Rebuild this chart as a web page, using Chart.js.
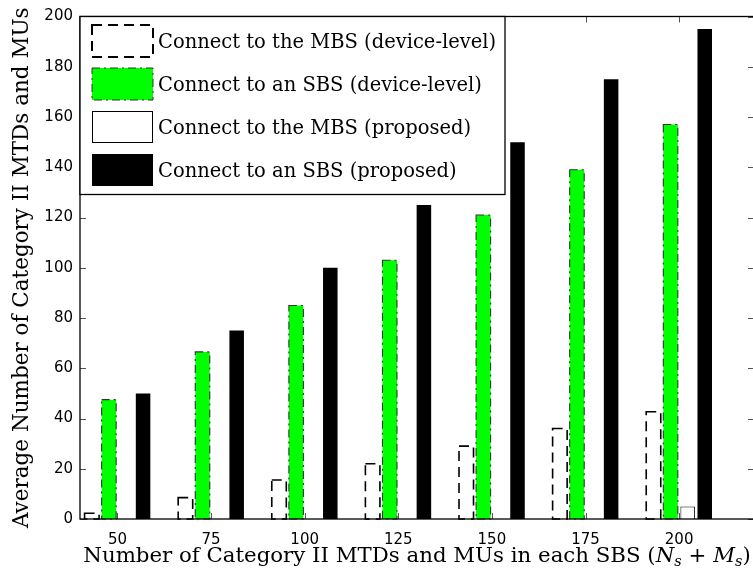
<!DOCTYPE html>
<html>
<head>
<meta charset="utf-8">
<script src="https://cdn.jsdelivr.net/npm/chart.js@4.4.1/dist/chart.umd.min.js"></script>
<style>
  html, body { margin: 0; padding: 0; background: #fff; overflow: hidden; }
  #wrap { width: 753px; height: 576px; overflow: hidden; }
</style>
</head>
<body>
<div id="wrap"><canvas id="barChart" width="756" height="576"></canvas></div>
<script>
// --- Data ---
const sbsSizes = [50, 75, 100, 125, 150, 175, 200];
const mbsDevice = [2.3, 8.5, 15.5, 22, 29, 36, 42.7];
const sbsDevice = [47.5, 66.5, 85, 103, 121, 139, 157];
const mbsProposed = [0, 0, 0, 0, 0, 0, 5];
const sbsProposed = [50, 75, 100, 125, 150, 175, 195];
const seriesNames = [
  'Connect to the MBS (device-level)',
  'Connect to an SBS (device-level)',
  'Connect to the MBS (proposed)',
  'Connect to an SBS (proposed)'
];
const yTicks = [0, 20, 40, 60, 80, 100, 120, 140, 160, 180, 200];
const yTitle = 'Average Number of Category II MTDs and MUs';

const SERIF = '"DejaVu Serif", serif';
const SANS = '"DejaVu Sans", sans-serif';

const toPoints = vals => vals.map((v, i) => ({ x: sbsSizes[i], y: v }));

// --- Dashed / dash-dot outlines (bars have no native dash support) ---
function strokeBars(c, meta, dash, width, color) {
  c.save();
  c.setLineDash(dash);
  c.lineWidth = width;
  c.strokeStyle = color;
  meta.data.forEach(bar => {
    const p = bar.getProps(['x', 'y', 'base', 'width'], true);
    if (p.base - p.y < 0.5) return;
    c.strokeRect(p.x - p.width / 2, p.y, p.width, p.base - p.y);
  });
  c.restore();
}

function drawSwatch(c, i, x, y, w, h) {
  c.save();
  if (i === 0) {
    c.fillStyle = '#fff'; c.fillRect(x, y, w, h);
    c.setLineDash([10, 6]); c.lineWidth = 2; c.strokeStyle = '#000';
    c.strokeRect(x, y, w, h);
  } else if (i === 1) {
    c.fillStyle = '#00ff00'; c.fillRect(x, y, w, h);
    c.setLineDash([8, 4, 2, 4]); c.lineWidth = 1; c.strokeStyle = '#333';
    c.strokeRect(x, y, w, h);
  } else if (i === 2) {
    c.fillStyle = '#fff'; c.fillRect(x, y, w, h);
    c.lineWidth = 1; c.strokeStyle = '#000';
    c.strokeRect(x + 0.5, y + 0.5, w - 1, h - 1);
  } else {
    c.fillStyle = '#000'; c.fillRect(x, y, w, h);
  }
  c.restore();
}

const matlabLook = {
  id: 'matlabLook',
  afterDatasetsDraw(chart) {
    const c = chart.ctx;
    const a = chart.chartArea;
    strokeBars(c, chart.getDatasetMeta(0), [10, 6], 1.6, '#000');
    strokeBars(c, chart.getDatasetMeta(1), [8, 4, 2, 4], 1.1, '#333');

    // inward tick marks on all four sides
    const xs = chart.scales.x, ys = chart.scales.y;
    c.save();
    c.strokeStyle = '#555';
    c.lineWidth = 1;
    c.beginPath();
    yTicks.forEach(v => {
      const py = Math.round(ys.getPixelForValue(v)) + 0.5;
      c.moveTo(a.left, py); c.lineTo(a.left + 6, py);
      c.moveTo(a.right, py); c.lineTo(a.right - 6, py);
    });
    sbsSizes.forEach(v => {
      const px = Math.round(xs.getPixelForValue(v)) + 0.5;
      c.moveTo(px, a.bottom); c.lineTo(px, a.bottom - 6);
      c.moveTo(px, a.top); c.lineTo(px, a.top + 6);
    });
    c.stroke();
    // axes box
    c.strokeStyle = '#000';
    c.lineWidth = 1.3;
    c.strokeRect(a.left, a.top, a.right - a.left, a.bottom - a.top);
    c.restore();
  },
  afterDraw(chart) {
    const c = chart.ctx;
    const a = chart.chartArea;

    // legend in the upper-left corner
    const lx = a.left, ly = a.top, lw = 425, lh = 178;
    c.save();
    c.fillStyle = '#fff';
    c.fillRect(lx, ly, lw, lh);
    c.strokeStyle = '#000';
    c.lineWidth = 1.3;
    c.strokeRect(lx, ly, lw, lh);
    c.font = '19.5px ' + SERIF;
    c.fillStyle = '#000';
    c.textBaseline = 'alphabetic';
    seriesNames.forEach((name, i) => {
      const top = ly + 8.5 + i * 43;
      drawSwatch(c, i, lx + 12, top, 61, 32);
      c.fillText(name, lx + 78, top + 22.5);
    });
    c.restore();

    // y axis title
    c.save();
    c.font = '21.5px ' + SERIF;
    c.fillStyle = '#000';
    c.textAlign = 'center';
    c.textBaseline = 'alphabetic';
    c.translate(28, (a.top + a.bottom) / 2);
    c.rotate(-Math.PI / 2);
    c.fillText(yTitle, 0, 0);
    c.restore();

    // x axis title with math subscripts
    const parts = [
      ['Number of Category II MTDs and MUs in each SBS (', '', 21.3, 0],
      ['N', 'italic ', 21.3, 0],
      ['s', 'italic ', 14.5, 4],
      [' + ', '', 21.3, 0],
      ['M', 'italic ', 21.3, 0],
      ['s', 'italic ', 14.5, 4],
      [')', '', 21.3, 0]
    ];
    c.save();
    c.fillStyle = '#000';
    c.textBaseline = 'alphabetic';
    let total = 0;
    parts.forEach(p => { c.font = p[1] + p[2] + 'px ' + SERIF; total += c.measureText(p[0]).width; });
    let cx = (a.left + a.right) / 2 - total / 2;
    parts.forEach(p => {
      c.font = p[1] + p[2] + 'px ' + SERIF;
      c.fillText(p[0], cx, 562 + p[3]);
      cx += c.measureText(p[0]).width;
    });
    c.restore();
  }
};

new Chart(document.getElementById('barChart'), {
  type: 'bar',
  data: {
    datasets: [
      { label: seriesNames[0], data: toPoints(mbsDevice), backgroundColor: '#fff', borderWidth: 0 },
      { label: seriesNames[1], data: toPoints(sbsDevice), backgroundColor: '#00ff00', borderWidth: 0 },
      { label: seriesNames[2], data: toPoints(mbsProposed), backgroundColor: '#fff', borderColor: '#000', borderWidth: 1 },
      { label: seriesNames[3], data: toPoints(sbsProposed), backgroundColor: '#000', borderWidth: 0 }
    ]
  },
  options: {
    responsive: false,
    animation: false,
    devicePixelRatio: 1,
    categoryPercentage: 0.73,
    barPercentage: 0.85,
    layout: { padding: { top: 16.5, right: 2, left: 0, bottom: 0 } },
    plugins: { legend: { display: false }, tooltip: { enabled: false } },
    scales: {
      x: {
        type: 'linear',
        offset: false,
        min: 40,
        max: 220,
        grid: { display: false, drawTicks: false, offset: false },
        border: { display: false },
        afterBuildTicks: axis => { axis.ticks = sbsSizes.map(v => ({ value: v })); },
        afterFit: axis => { axis.height = 57; },
        ticks: { color: '#000', padding: 12, maxRotation: 0, font: { family: SANS, size: 15 } }
      },
      y: {
        min: 0,
        max: 200,
        grid: { display: false, drawTicks: false },
        border: { display: false },
        afterBuildTicks: axis => { axis.ticks = yTicks.map(v => ({ value: v })); },
        afterFit: axis => { axis.width = 80; },
        ticks: { color: '#000', padding: 7, font: { family: SANS, size: 15 } }
      }
    }
  },
  plugins: [matlabLook]
});
</script>
</body>
</html>
